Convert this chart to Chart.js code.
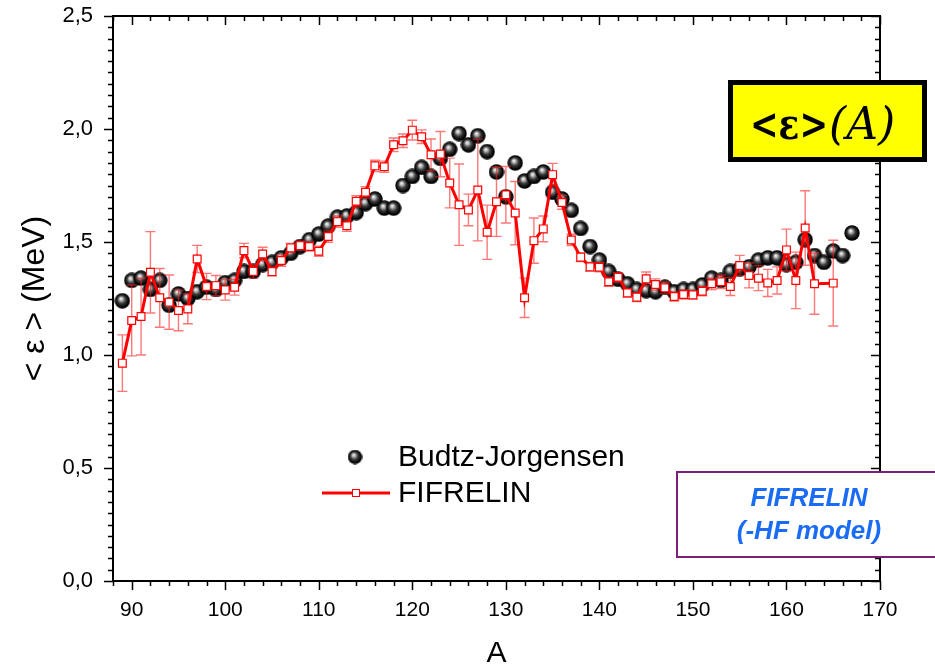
<!DOCTYPE html>
<html>
<head>
<meta charset="utf-8">
<title>Mean gamma energy vs A</title>
<script src="https://cdn.jsdelivr.net/npm/chart.js@4.4.0/dist/chart.umd.min.js"></script>
<style>
  body { margin: 0; background: #fff; }
  canvas { display: block; }
</style>
</head>
<body>
<canvas id="plotCanvas" width="935" height="669"></canvas>
<script>
// Budtz-Jorgensen data: mass number and mean gamma energy (MeV)
const budtzA = [89, 90, 91, 92, 93, 94, 95, 96, 97, 98, 99,
  100, 101, 102, 103, 104, 105, 106, 107, 108, 109,
  110, 111, 112, 113, 114, 115, 116, 117, 118, 119,
  120, 121, 122, 123, 124, 125, 126, 127, 128, 129,
  130, 131, 132, 133, 134, 135, 136, 137, 138, 139,
  140, 141, 142, 143, 144, 145, 146, 147, 148, 149,
  150, 151, 152, 153, 154, 155, 156, 157, 158, 159,
  160, 161, 162, 163, 164, 165, 166, 167]
const budtzE = [1.24, 1.33, 1.34, 1.29, 1.33, 1.22, 1.27, 1.25, 1.28, 1.30, 1.29,
  1.32, 1.33, 1.37, 1.37, 1.40, 1.41, 1.43, 1.45, 1.48, 1.51,
  1.535, 1.57, 1.61, 1.615, 1.63, 1.67, 1.69, 1.65, 1.65, 1.75,
  1.79, 1.83, 1.79, 1.87, 1.91, 1.98, 1.93, 1.97, 1.90, 1.81,
  1.70, 1.85, 1.77, 1.79, 1.81, 1.72, 1.69, 1.64, 1.56, 1.48,
  1.42, 1.37, 1.335, 1.315, 1.29, 1.285, 1.28, 1.30, 1.28, 1.29,
  1.29, 1.31, 1.34, 1.33, 1.37, 1.38, 1.39, 1.42, 1.43, 1.43,
  1.40, 1.41, 1.51, 1.44, 1.41, 1.46, 1.44, 1.54]

// FIFRELIN (-HF model) calculation with its statistical error
const fifA = [89, 90, 91, 92, 93, 94, 95, 96, 97, 98, 99,
  100, 101, 102, 103, 104, 105, 106, 107, 108, 109,
  110, 111, 112, 113, 114, 115, 116, 117, 118, 119,
  120, 121, 122, 123, 124, 125, 126, 127, 128, 129,
  130, 131, 132, 133, 134, 135, 136, 137, 138, 139,
  140, 141, 142, 143, 144, 145, 146, 147, 148, 149,
  150, 151, 152, 153, 154, 155, 156, 157, 158, 159,
  160, 161, 162, 163, 165]
const fifE = [0.964, 1.153, 1.17, 1.366, 1.253, 1.234, 1.197, 1.204, 1.425, 1.303, 1.307,
  1.288, 1.30, 1.462, 1.37, 1.447, 1.369, 1.418, 1.474, 1.484, 1.48,
  1.459, 1.524, 1.59, 1.572, 1.68, 1.72, 1.837, 1.833, 1.93, 1.948,
  1.995, 1.966, 1.886, 1.889, 1.761, 1.665, 1.642, 1.73, 1.543, 1.678,
  1.709, 1.628, 1.253, 1.506, 1.558, 1.798, 1.675, 1.509, 1.433, 1.39,
  1.388, 1.324, 1.344, 1.275, 1.256, 1.337, 1.312, 1.297, 1.259, 1.268,
  1.266, 1.282, 1.315, 1.324, 1.303, 1.396, 1.352, 1.34, 1.319, 1.33,
  1.465, 1.33, 1.562, 1.315, 1.318]
const fifErr = [0.125, 0.157, 0.17, 0.18, 0.13, 0.12, 0.09, 0.066, 0.06, 0.058, 0.045,
  0.045, 0.035, 0.032, 0.03, 0.03, 0.02, 0.025, 0.02, 0.02, 0.02,
  0.022, 0.025, 0.025, 0.025, 0.025, 0.025, 0.025, 0.025, 0.03, 0.03,
  0.044, 0.03, 0.07, 0.1, 0.11, 0.18, 0.07, 0.225, 0.12, 0.153,
  0.125, 0.14, 0.087, 0.1, 0.057, 0.05, 0.03, 0.025, 0.02, 0.02,
  0.02, 0.02, 0.02, 0.02, 0.02, 0.03, 0.025, 0.025, 0.02, 0.02,
  0.02, 0.02, 0.025, 0.03, 0.04, 0.045, 0.055, 0.055, 0.06, 0.06,
  0.092, 0.125, 0.165, 0.135, 0.19]

const xTicks = [90, 100, 110, 120, 130, 140, 150, 160, 170]
const yTicks = [0, 0.5, 1.0, 1.5, 2.0, 2.5]

const FONT = '"Liberation Sans", Arial, sans-serif'

// shaded black ball used as the marker for the measurement
function makeBall(d) {
  const c = document.createElement('canvas')
  c.width = d
  c.height = d
  const g = c.getContext('2d')
  const r = d / 2
  const grad = g.createRadialGradient(r * 0.8, r * 0.7, 0, r, r, r)
  grad.addColorStop(0, '#ffffff')
  grad.addColorStop(0.18, '#c8c8c8')
  grad.addColorStop(0.5, '#3a3a3a')
  grad.addColorStop(0.85, '#000000')
  grad.addColorStop(1, '#000000')
  g.fillStyle = grad
  g.beginPath()
  g.arc(r, r, r - 0.3, 0, Math.PI * 2)
  g.fill()
  return c
}
const ball = makeBall(16)
const legendBall = makeBall(15)

const decorations = {
  id: 'decorations',
  beforeDatasetDraw(chart, args) {
    if (args.index !== 1) return
    // vertical error bars sit under the FIFRELIN line and squares
    const { ctx, scales: { x, y } } = chart
    ctx.save()
    ctx.strokeStyle = 'rgba(255, 30, 30, 0.6)'
    ctx.lineWidth = 1.4
    fifA.forEach((a, i) => {
      const px = x.getPixelForValue(a)
      const top = y.getPixelForValue(fifE[i] + fifErr[i])
      const bot = y.getPixelForValue(fifE[i] - fifErr[i])
      ctx.beginPath()
      ctx.moveTo(px, top)
      ctx.lineTo(px, bot)
      ctx.moveTo(px - 5, top)
      ctx.lineTo(px + 5, top)
      ctx.moveTo(px - 5, bot)
      ctx.lineTo(px + 5, bot)
      ctx.stroke()
    })
    ctx.restore()
  },
  afterDraw(chart) {
    const { ctx, chartArea: { left, right, top, bottom }, scales: { x, y } } = chart
    ctx.save()
    ctx.strokeStyle = '#000'

    // top and right frame lines
    ctx.lineWidth = 2
    ctx.beginPath()
    ctx.moveTo(left, top)
    ctx.lineTo(right, top)
    ctx.lineTo(right, bottom)
    ctx.stroke()

    // tick marks: outward on bottom/left, inward on top/right
    ctx.lineWidth = 1.5
    ctx.beginPath()
    for (let k = 0; k <= 41; k++) {
      const a = 88 + 2 * k
      const px = Math.round(x.getPixelForValue(a)) + 0.5
      const len = a % 10 === 0 ? 9 : 5
      ctx.moveTo(px, bottom)
      ctx.lineTo(px, bottom + len)
      ctx.moveTo(px, top)
      ctx.lineTo(px, top + len)
    }
    for (let k = 0; k <= 50; k++) {
      const py = Math.round(y.getPixelForValue(k * 0.05)) + 0.5
      const len = k % 10 === 0 ? 9 : 5
      ctx.moveTo(left, py)
      ctx.lineTo(left - len, py)
      ctx.moveTo(right, py)
      ctx.lineTo(right - len, py)
    }
    ctx.stroke()

    // legend
    const ds = chart.data.datasets
    ctx.drawImage(legendBall, 355 - 7.5, 457 - 7.5)
    ctx.strokeStyle = '#ff0000'
    ctx.lineWidth = 3
    ctx.beginPath()
    ctx.moveTo(322, 493)
    ctx.lineTo(390, 493)
    ctx.stroke()
    ctx.fillStyle = '#fff'
    ctx.lineWidth = 1
    ctx.fillRect(352.5, 489.5, 7, 7)
    ctx.strokeRect(352.5, 489.5, 7, 7)
    ctx.fillStyle = '#000'
    ctx.font = '30px ' + FONT
    ctx.textBaseline = 'middle'
    ctx.textAlign = 'left'
    ctx.fillText(ds[0].label, 398, 458)
    ctx.fillText(ds[1].label, 398, 494)

    // yellow title box
    ctx.fillStyle = '#ffff00'
    ctx.fillRect(728, 80, 199, 82)
    ctx.strokeStyle = '#000'
    ctx.lineWidth = 5
    ctx.strokeRect(730.5, 82.5, 194, 77)
    ctx.fillStyle = '#000'
    ctx.textBaseline = 'alphabetic'
    ctx.font = 'bold 42px "DejaVu Serif", serif'
    ctx.fillText('<\u03b5>', 750, 139, 78)
    ctx.font = 'italic 44px "DejaVu Serif", serif'
    ctx.fillText('(A)', 829, 139, 67)

    // model box
    ctx.fillStyle = '#fff'
    ctx.fillRect(677, 472, 270, 85)
    ctx.strokeStyle = '#7b1f7b'
    ctx.lineWidth = 2
    ctx.strokeRect(677, 472, 270, 85)
    ctx.fillStyle = '#1a6cf5'
    ctx.font = 'italic bold 26px ' + FONT
    ctx.textAlign = 'center'
    ctx.textBaseline = 'middle'
    ctx.fillText('FIFRELIN', 809, 499)
    ctx.fillText('(-HF model)', 809, 532)
    ctx.restore()
  }
}

const canvas = document.getElementById('plotCanvas')
new Chart(canvas, {
  type: 'line',
  data: {
    datasets: [
      {
        label: 'Budtz-Jorgensen',
        data: budtzA.map((a, i) => ({ x: a, y: budtzE[i] })),
        showLine: false,
        pointStyle: ball,
        order: 2,
      },
      {
        label: 'FIFRELIN',
        data: fifA.map((a, i) => ({ x: a, y: fifE[i] })),
        borderColor: '#ff0000',
        borderWidth: 3,
        pointStyle: 'rect',
        pointRadius: 5.5,
        pointBorderWidth: 1.2,
        pointBorderColor: '#ff0000',
        pointBackgroundColor: '#ffffff',
        tension: 0,
        order: 1,
      },
    ],
  },
  options: {
    responsive: false,
    animation: false,
    events: [],
    layout: { padding: { left: 0, right: 55, top: 16, bottom: 0 } },
    plugins: { legend: { display: false }, tooltip: { enabled: false } },
    scales: {
      x: {
        type: 'linear',
        min: 88,
        max: 170,
        afterBuildTicks: s => { s.ticks = xTicks.map(v => ({ value: v })) },
        afterFit: s => {
          s.height = 88
          s.paddingLeft = 0
          s.paddingRight = 0
        },
        grid: { display: false, drawTicks: false },
        border: { display: true, color: '#000', width: 2 },
        ticks: { color: '#000', font: { family: FONT, size: 21 }, padding: 17, maxRotation: 0 },
        title: { display: true, text: 'A', color: '#000', font: { family: FONT, size: 30, lineHeight: 1 }, padding: { top: 0, bottom: 0 } },
      },
      y: {
        type: 'linear',
        min: 0,
        max: 2.5,
        afterBuildTicks: s => { s.ticks = yTicks.map(v => ({ value: v })) },
        afterFit: s => {
          s.width = 113
          s.paddingTop = 0
          s.paddingBottom = 0
        },
        grid: { display: false, drawTicks: false },
        border: { display: true, color: '#000', width: 2 },
        ticks: {
          color: '#000',
          font: { family: FONT, size: 22 },
          padding: 20,
          callback: v => v.toFixed(1).replace('.', ','),
        },
        title: { display: true, text: '< \u03b5 > (MeV)', color: '#000', font: { family: FONT, size: 32, lineHeight: 1 }, padding: { top: 19, bottom: 0 } },
      },
    },
  },
  plugins: [decorations],
})
</script>
</body>
</html>
